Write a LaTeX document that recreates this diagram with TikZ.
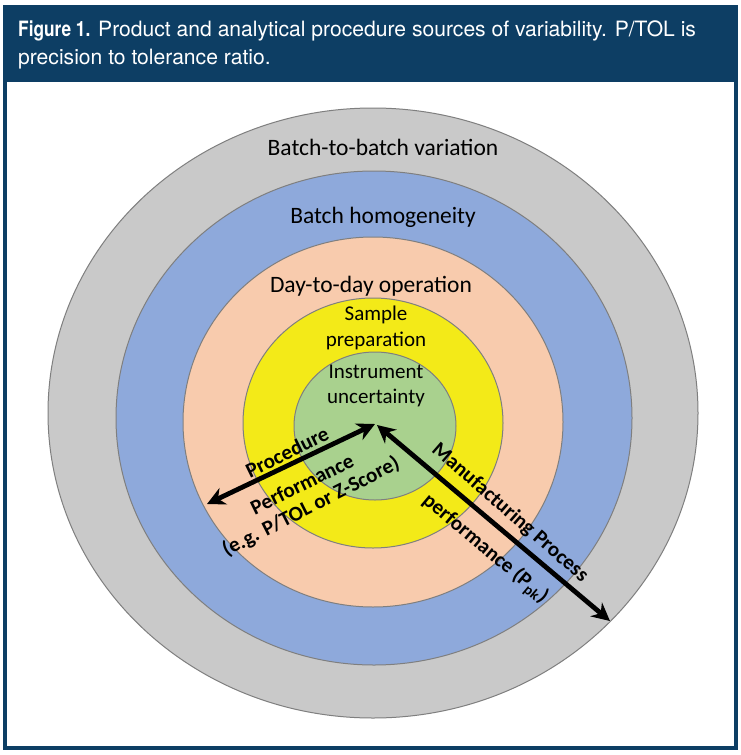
\documentclass[tikz,border=0pt]{standalone}
\usepackage{fontspec}
\setmainfont{Carlito}
\newfontfamily\hdfont{TeX Gyre Heros}
\newfontfamily\hdbold[FakeStretch=0.82]{TeX Gyre Heros Bold}
\usetikzlibrary{arrows.meta}
\definecolor{navy}{HTML}{0D3E64}
\definecolor{cgray}{HTML}{C9C9C9}
\definecolor{cblue}{HTML}{8EA9DB}
\definecolor{cpeach}{HTML}{F8CBAD}
\definecolor{cyellow}{HTML}{F3EA18}
\definecolor{cgreen}{HTML}{A9D18E}
\definecolor{rim}{HTML}{7F7F7F}
\tikzset{
  ring/.style={draw=rim, line width=1pt},
  biglabel/.style={font=\fontsize{23.5}{26}\selectfont, inner sep=0pt, align=center},
  smalllabel/.style={font=\fontsize{21}{25.5}\selectfont, inner sep=0pt, align=center},
  arrowlabel/.style={font=\bfseries\fontsize{21}{24}\selectfont, inner sep=0pt},
  dblarrow/.style={line width=4.8pt, {Stealth[length=18pt,width=18pt]}-{Stealth[length=18pt,width=18pt]}}
}
\begin{document}
\begin{tikzpicture}[x=1pt,y=-1pt]
\useasboundingbox (0,0) rectangle (740,755);
% frame and header
\fill[white] (0,0) rectangle (740,755);
\fill[navy] (3,5) rectangle (738,82);
\draw[navy, line width=4pt] (5,7) rectangle (736,748);
\node[anchor=north west, align=left, text=white, inner sep=0pt,
      font=\hdfont\fontsize{21.1}{27.5}\selectfont] (head) at (18,21)
  {{\hdbold Figure 1.} Product and analytical procedure sources of variability. P/TOL is\\
   precision to tolerance ratio.};
% rings
\filldraw[ring, fill=cgray]   (373,413) ellipse [x radius=325pt, y radius=305pt];
\filldraw[ring, fill=cblue]   (374,418) ellipse [x radius=258pt, y radius=247pt];
\filldraw[ring, fill=cpeach]  (373,422) ellipse [x radius=190pt, y radius=185pt];
\filldraw[ring, fill=cyellow] (373,423) ellipse [x radius=130pt, y radius=125pt];
\filldraw[ring, fill=cgreen]  (375,426) ellipse [x radius=81pt, y radius=74pt];
% ring labels
\node[biglabel] (t1) at (383,147) {Batch-to-batch variation};
\node[biglabel] (t2) at (383,217) {Batch homogeneity};
\node[biglabel] (t3) at (371,286) {Day-to-day operation};
\node[smalllabel] (t4) at (376,328) {Sample\\preparation};
\node[smalllabel] (t5) at (376,386) {Instrument\\uncertainty};
% arrows
\coordinate (c1) at (375,424);
\coordinate (lend) at (207,504);
\coordinate (c2) at (377,425);
\coordinate (rend) at (610,621);
\draw[dblarrow] (c1) -- (lend);
\draw[dblarrow] (c2) -- (rend);
% arrow labels
\node[arrowlabel, rotate=26] (p1) at (287,452) {Procedure};
\node[arrowlabel, rotate=26] (p2) at (302,484) {Performance};
\node[arrowlabel, rotate=27] (p3) at (311,507) {(e.g. P/TOL or Z-Score)};
\node[arrowlabel, rotate=-41] (m1) at (510,513) {Manufacturing Process};
\node[arrowlabel, rotate=-40] (m2) at (485,549) {performance (P\textsubscript{pk})};
\end{tikzpicture}
\end{document}
